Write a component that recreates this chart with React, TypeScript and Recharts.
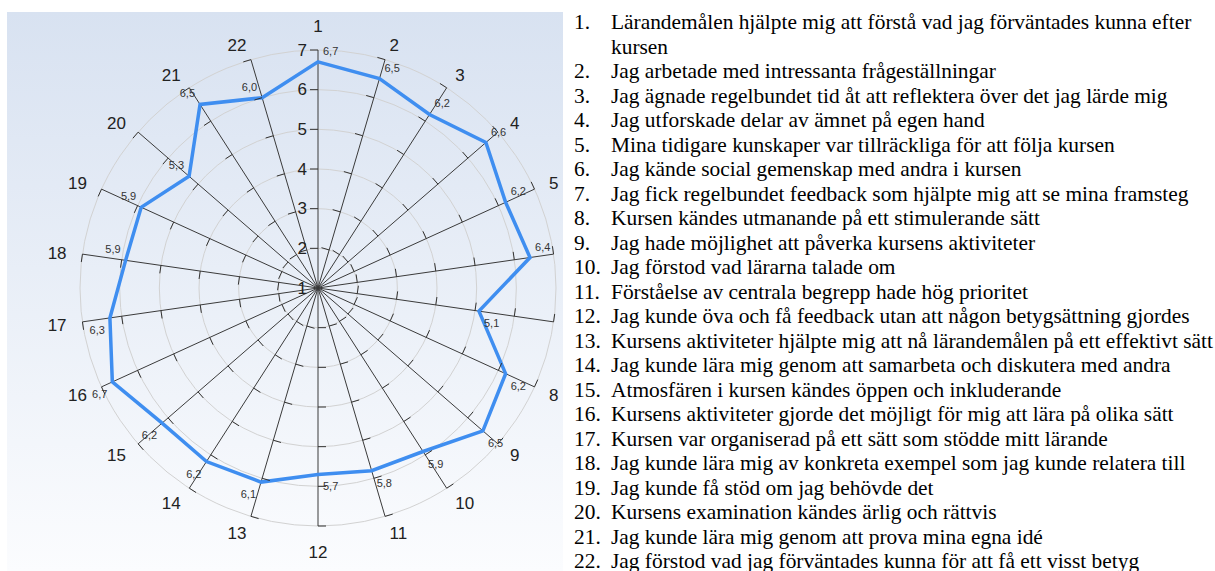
import { RadarChart, Radar, PolarGrid, PolarAngleAxis, PolarRadiusAxis } from 'recharts';

const QUESTION_IDS = ['1', '2', '3', '4', '5', '6', '7', '8', '9', '10', '11', '12', '13', '14', '15', '16', '17', '18', '19', '20', '21', '22'];
const MEANS = [6.7, 6.5, 6.2, 6.6, 6.2, 6.4, 5.1, 6.2, 6.5, 5.9, 5.8, 5.7, 6.1, 6.2, 6.2, 6.7, 6.3, 5.9, 5.9, 5.3, 6.5, 6.0];
const SCALE_TICKS = [1, 2, 3, 4, 5, 6, 7];
const STATEMENTS = [
  'Lärandemålen hjälpte mig att förstå vad jag förväntades kunna efter kursen',
  'Jag arbetade med intressanta frågeställningar',
  'Jag ägnade regelbundet tid åt att reflektera över det jag lärde mig',
  'Jag utforskade delar av ämnet på egen hand',
  'Mina tidigare kunskaper var tillräckliga för att följa kursen',
  'Jag kände social gemenskap med andra i kursen',
  'Jag fick regelbundet feedback som hjälpte mig att se mina framsteg',
  'Kursen kändes utmanande på ett stimulerande sätt',
  'Jag hade möjlighet att påverka kursens aktiviteter',
  'Jag förstod vad lärarna talade om',
  'Förståelse av centrala begrepp hade hög prioritet',
  'Jag kunde öva och få feedback utan att någon betygsättning gjordes',
  'Kursens aktiviteter hjälpte mig att nå lärandemålen på ett effektivt sätt',
  'Jag kunde lära mig genom att samarbeta och diskutera med andra',
  'Atmosfären i kursen kändes öppen och inkluderande',
  'Kursens aktiviteter gjorde det möjligt för mig att lära på olika sätt',
  'Kursen var organiserad på ett sätt som stödde mitt lärande',
  'Jag kunde lära mig av konkreta exempel som jag kunde relatera till',
  'Jag kunde få stöd om jag behövde det',
  'Kursens examination kändes ärlig och rättvis',
  'Jag kunde lära mig genom att prova mina egna idé',
  'Jag förstod vad jag förväntades kunna för att få ett visst betyg',
];

const CHART_W = 556;
const CHART_H = 559;
const CX = 311;
const CY = 276;
const OUTER = 238;
const SANS = '"Liberation Sans", Arial, sans-serif';
const RAD = Math.PI / 180;

// tick levels on every spoke (skip the centre)
const LEVELS = SCALE_TICKS.slice(1);

const data = QUESTION_IDS.map((name, i) => {
  const row: any = { name, value: MEANS[i] };
  LEVELS.forEach((l) => {
    row[`lvl${l}`] = l;
  });
  return row;
});

function TickMark(props: any) {
  const { cx, cy, index } = props;
  const dx = cx - CX;
  const dy = cy - CY;
  const len = Math.hypot(dx, dy) || 1;
  // perpendicular on the counter-clockwise side of the spoke
  const nx = dy / len;
  const ny = -dx / len;
  return (
    <line key={`tk-${index}`} x1={cx} y1={cy} x2={cx + nx * 8} y2={cy + ny * 8} stroke="#333" strokeWidth={1} />
  );
}

function ScaleTick(props: any) {
  const { x, y, payload } = props;
  return (
    <text x={x - 11} y={y} textAnchor="end" dominantBaseline="central" fontSize={17} fontFamily={SANS} fill="#222">
      {payload.value}
    </text>
  );
}

function QuestionTick(props: any) {
  const { payload } = props;
  const a = payload.coordinate * RAD;
  const r = OUTER + 16;
  const c = Math.cos(a);
  const s = Math.sin(a);
  const x = CX + r * c;
  let y = CY - r * s + 1.5;
  let anchor: 'start' | 'middle' | 'end' = 'middle';
  if (c > 0.01) anchor = 'start';
  else if (c < -0.01) anchor = 'end';
  else y += s > 0 ? -9 : 9;
  return (
    <text x={x} y={y} textAnchor={anchor} dominantBaseline="central" fontSize={17} fontFamily={SANS} fill="#222">
      {payload.value}
    </text>
  );
}

function ValueLabel(props: any) {
  const { cx, cy, index } = props;
  const dx = cx - CX;
  const dy = cy - CY;
  const right = dx >= -0.5;
  const v = MEANS[index];
  return (
    <text
      key={`lbl-${index}`}
      x={right ? cx + 5 : cx - 5}
      y={dy < 0 ? cy - 11 : cy + 12}
      textAnchor={right ? 'start' : 'end'}
      dominantBaseline="central"
      fontSize={11}
      fontFamily={SANS}
      fill="#333"
    >
      {v.toFixed(1).replace('.', ',')}
    </text>
  );
}

export default function App() {
  return (
    <div style={{ position: 'absolute', left: 0, top: 0, width: 1215, height: 571, overflow: 'hidden', background: '#fff' }}>
      <div
        style={{
          position: 'absolute',
          left: 7,
          top: 12,
          width: CHART_W,
          height: CHART_H,
          overflow: 'hidden',
          background: 'linear-gradient(#d8e2f1, #fbfcfe)',
        }}
      >
        <RadarChart width={CHART_W} height={CHART_H} cx={CX} cy={CY} outerRadius={OUTER} data={data} margin={{ top: 0, right: 0, bottom: 0, left: 0 }}>
          <PolarGrid gridType="circle" radialLines={false} stroke="#d2d2d2" />
          <PolarGrid gridType="circle" polarRadius={[0]} radialLines stroke="#3a3a3a" strokeWidth={1} />
          <PolarAngleAxis dataKey="name" tick={<QuestionTick />} tickLine={false} axisLine={false} />
          <PolarRadiusAxis angle={90} domain={[1, 7]} ticks={SCALE_TICKS} tickCount={7} axisLine={false} tick={<ScaleTick />} />
          {LEVELS.map((l) => (
            <Radar
              key={`lvl-${l}`}
              dataKey={`lvl${l}`}
              stroke="none"
              fill="none"
              legendType="none"
              dot={(p: any) => <TickMark {...p} />}
              isAnimationActive={false}
            />
          ))}
          <Radar
            dataKey="value"
            stroke="#3f8ef0"
            strokeWidth={3.5}
            fill="none"
            fillOpacity={0}
            dot={(p: any) => <ValueLabel {...p} />}
            isAnimationActive={false}
          />
        </RadarChart>
      </div>
      <div
        style={{
          position: 'absolute',
          left: 574,
          top: 10,
          width: 660,
          fontFamily: '"Liberation Serif", "Times New Roman", serif',
          fontSize: 21.4,
          lineHeight: '24.5px',
          color: '#000',
        }}
      >
        {STATEMENTS.map((s, i) => (
          <div key={i} style={{ display: 'flex' }}>
            <div style={{ width: 37, flexShrink: 0 }}>{i + 1}.</div>
            <div style={{ width: 610 }}>{s}</div>
          </div>
        ))}
      </div>
    </div>
  );
}
